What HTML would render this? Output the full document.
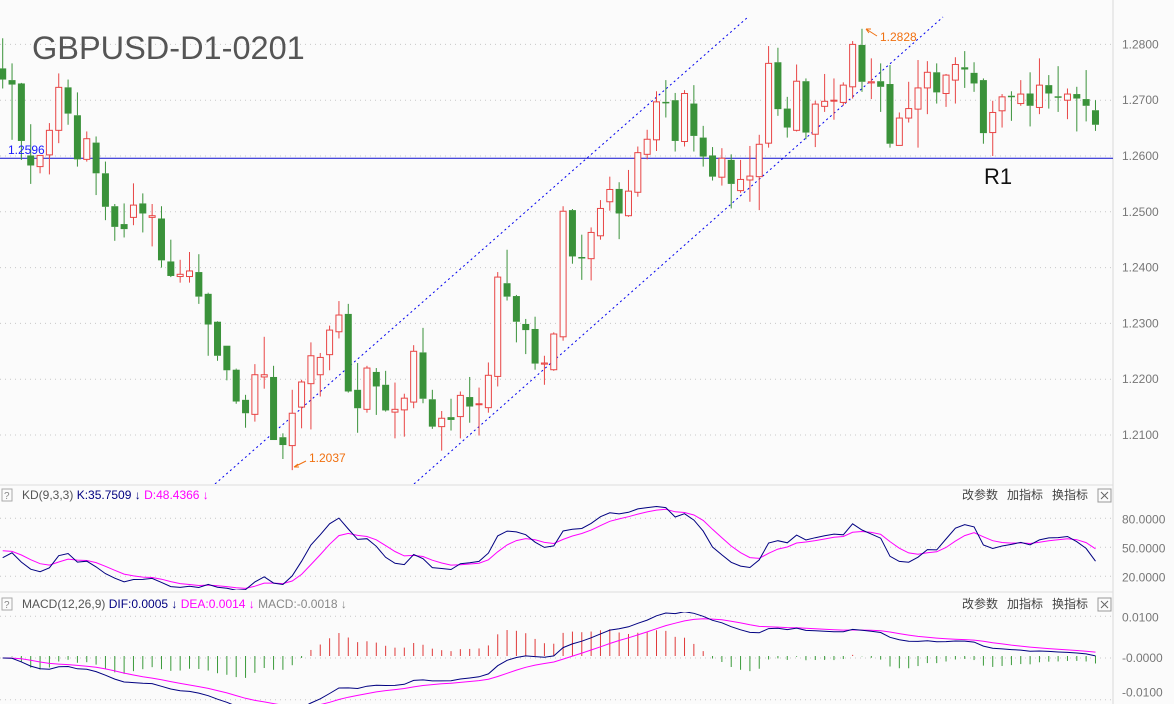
<!DOCTYPE html>
<html><head><meta charset="utf-8">
<style>
html,body{margin:0;padding:0;background:#fbfbfb;}
svg{display:block;font-family:"Liberation Sans","Noto Sans CJK SC",sans-serif;}
</style></head>
<body>
<svg id="chart" width="1174" height="704" viewBox="0 0 1174 704" xmlns="http://www.w3.org/2000/svg">
<defs>
<clipPath id="mainClip"><rect x="0" y="0" width="1113" height="484"/></clipPath>
<clipPath id="kdClip"><rect x="0" y="505" width="1113" height="85"/></clipPath>
<clipPath id="macdClip"><rect x="0" y="612" width="1113" height="92"/></clipPath>
</defs>
<rect x="0" y="0" width="1174" height="704" fill="#fbfbfb"/>
<line x1="1113" y1="0" x2="1113" y2="704" stroke="#d8d8d8"/>
<line x1="0" y1="485" x2="1113" y2="485" stroke="#dedede"/>
<line x1="0" y1="592" x2="1113" y2="592" stroke="#dedede"/>
<g id="grid"></g>
<g id="main" clip-path="url(#mainClip)"></g>
<g id="kd" clip-path="url(#kdClip)"></g>
<g id="macd" clip-path="url(#macdClip)"></g>
<g id="axes"></g>
<text x="32" y="59" font-size="32.5" fill="#555">GBPUSD-D1-0201</text>
<text x="8" y="154" font-size="12" fill="#1a1aff">1.2596</text>
<text x="984" y="184" font-size="22" fill="#111">R1</text>
<g>
<text x="309" y="462" font-size="12" fill="#f07010">1.2037</text>
<path d="M306 461 L294 467 M294 467 l4 -3 M294 467 l5 0" stroke="#f07010" fill="none"/>
</g>
<g>
<text x="880" y="41" font-size="12" fill="#f07010">1.2828</text>
<path d="M877 36 L866 29 M866 29 l5 0 M866 29 l3 4" stroke="#f07010" fill="none"/>
</g>
<rect x="2" y="489" width="10" height="12" fill="none" stroke="#aaa"/>
<text x="4" y="499" font-size="10" fill="#888">?</text>
<text x="22" y="499" font-size="12" fill="#555">KD(9,3,3) <tspan fill="#000080">K:35.7509 ↓</tspan> <tspan fill="#ff00ff">D:48.4366 ↓</tspan></text>
<text x="962" y="499" font-size="12" fill="#444">改参数</text>
<text x="1007" y="499" font-size="12" fill="#444">加指标</text>
<text x="1052" y="499" font-size="12" fill="#444">换指标</text>
<g><rect x="1098" y="489" width="13" height="13" fill="none" stroke="#999"/><path d="M1101 492 l7 7 M1108 492 l-7 7" stroke="#666"/></g>
<rect x="2" y="598" width="10" height="12" fill="none" stroke="#aaa"/>
<text x="4" y="608" font-size="10" fill="#888">?</text>
<text x="22" y="608" font-size="12" fill="#555">MACD(12,26,9) <tspan fill="#000080">DIF:0.0005 ↓</tspan> <tspan fill="#ff00ff">DEA:0.0014 ↓</tspan> <tspan fill="#888">MACD:-0.0018 ↓</tspan></text>
<text x="962" y="608" font-size="12" fill="#444">改参数</text>
<text x="1007" y="608" font-size="12" fill="#444">加指标</text>
<text x="1052" y="608" font-size="12" fill="#444">换指标</text>
<g><rect x="1098" y="598" width="13" height="13" fill="none" stroke="#999"/><path d="M1101 601 l7 7 M1108 601 l-7 7" stroke="#666"/></g>
</svg>
<script>
const opens=[1.2757,1.2736,1.2730,1.2601,1.2581,1.2602,1.2646,1.2723,1.2673,1.2594,1.2624,1.2569,1.2510,1.2478,1.2490,1.2515,1.2490,1.2488,1.2411,1.2384,1.2384,1.2392,1.2353,1.2303,1.2260,1.2217,1.2163,1.2137,1.2204,1.2204,1.2096,1.2081,1.2150,1.2192,1.2208,1.2244,1.2285,1.2317,1.2181,1.2146,1.2213,1.2190,1.2141,1.2145,1.2159,1.2248,1.2164,1.2115,1.2132,1.2133,1.2168,1.2155,1.2149,1.2205,1.2372,1.2349,1.2299,1.2290,1.2227,1.2217,1.2276,1.2503,1.2419,1.2416,1.2457,1.2518,1.2541,1.2493,1.2535,1.2603,1.2629,1.2697,1.2700,1.2626,1.2694,1.2633,1.2601,1.2562,1.2593,1.2538,1.2557,1.2563,1.2623,1.2768,1.2685,1.2646,1.2734,1.2639,1.2689,1.2699,1.2696,1.2724,1.2799,1.2731,1.2734,1.2729,1.2619,1.2668,1.2684,1.2722,1.2750,1.2712,1.2736,1.2759,1.2749,1.2736,1.2642,1.2681,1.2708,1.2694,1.2712,1.2687,1.2727,1.2707,1.2700,1.2711,1.2702,1.2682];
const highs=[1.2811,1.2766,1.2731,1.2657,1.2601,1.2659,1.2748,1.2737,1.2714,1.2644,1.2635,1.2590,1.2514,1.2515,1.2551,1.2533,1.2514,1.2510,1.2450,1.2414,1.2428,1.2424,1.2355,1.2304,1.2260,1.2219,1.2172,1.2227,1.2276,1.2224,1.2103,1.2181,1.2199,1.2266,1.2247,1.2296,1.2340,1.2335,1.2229,1.2224,1.2220,1.2215,1.2194,1.2174,1.2261,1.2292,1.2181,1.2143,1.2165,1.2178,1.2204,1.2185,1.2230,1.2392,1.2432,1.2351,1.2308,1.2312,1.2242,1.2284,1.2510,1.2505,1.2459,1.2472,1.2521,1.2563,1.2553,1.2575,1.2617,1.2647,1.2716,1.2736,1.2713,1.2718,1.2727,1.2654,1.2616,1.2614,1.2603,1.2593,1.2618,1.2638,1.2797,1.2794,1.2706,1.2764,1.2739,1.2699,1.2747,1.2739,1.2732,1.2806,1.2828,1.2775,1.2766,1.2763,1.2678,1.2733,1.2772,1.2770,1.2766,1.2747,1.2777,1.2788,1.2768,1.2739,1.2699,1.2711,1.2716,1.2736,1.2750,1.2775,1.2745,1.2761,1.2721,1.2724,1.2754,1.2700];
const lows=[1.2721,1.2629,1.2593,1.2550,1.2569,1.2567,1.2623,1.2656,1.2581,1.2590,1.2530,1.2485,1.2448,1.2454,1.2476,1.2463,1.2438,1.2400,1.2383,1.2373,1.2373,1.2335,1.2242,1.2233,1.2198,1.2156,1.2113,1.2124,1.2183,1.2091,1.2057,1.2037,1.2112,1.2110,1.2169,1.2216,1.2273,1.2176,1.2104,1.2140,1.2136,1.2142,1.2094,1.2097,1.2148,1.2157,1.2111,1.2072,1.2108,1.2094,1.2122,1.2099,1.2140,1.2187,1.2341,1.2266,1.2245,1.2217,1.2190,1.2215,1.2269,1.2407,1.2378,1.2377,1.2450,1.2502,1.2451,1.2491,1.2527,1.2594,1.2609,1.2669,1.2608,1.2617,1.2608,1.2581,1.2556,1.2547,1.2506,1.2534,1.2518,1.2503,1.2615,1.2672,1.2633,1.2644,1.2630,1.2616,1.2679,1.2665,1.2690,1.2703,1.2715,1.2702,1.2679,1.2615,1.2619,1.2660,1.2615,1.2675,1.2694,1.2688,1.2694,1.2722,1.2715,1.2622,1.2600,1.2651,1.2663,1.2690,1.2653,1.2675,1.2685,1.2679,1.2666,1.2644,1.2662,1.2645];
const closes=[1.2737,1.2728,1.2627,1.2583,1.2601,1.2646,1.2723,1.2676,1.2594,1.2631,1.2569,1.2509,1.2473,1.2469,1.2512,1.2497,1.2493,1.2413,1.2385,1.2388,1.2394,1.2348,1.2298,1.2242,1.2216,1.2160,1.2139,1.2208,1.2208,1.2091,1.2082,1.2139,1.2195,1.2242,1.2239,1.2288,1.2315,1.2178,1.2148,1.2220,1.2187,1.2144,1.2146,1.2166,1.2250,1.2165,1.2115,1.2130,1.2127,1.2171,1.2151,1.2156,1.2207,1.2383,1.2348,1.2303,1.2288,1.2228,1.2229,1.2281,1.2501,1.2420,1.2418,1.2463,1.2506,1.2540,1.2497,1.2537,1.2606,1.2630,1.2697,1.2696,1.2627,1.2712,1.2636,1.2599,1.2563,1.2596,1.2550,1.2558,1.2564,1.2621,1.2766,1.2684,1.2651,1.2734,1.2642,1.2693,1.2698,1.2700,1.2727,1.2800,1.2733,1.2733,1.2724,1.2622,1.2668,1.2685,1.2722,1.2750,1.2714,1.2745,1.2764,1.2755,1.2730,1.2641,1.2678,1.2706,1.2706,1.2711,1.2690,1.2727,1.2712,1.2706,1.2711,1.2703,1.2690,1.2656];
const priceTicks=[1.28,1.27,1.26,1.25,1.24,1.23,1.22,1.21];
const kdTicks=[80,50,20];
const macdTicks=[0.01,0,-0.01];
const supportLevel=1.2596;

const NS="http://www.w3.org/2000/svg";
function mk(tag,attrs,parent){const e=document.createElementNS(NS,tag);for(const k in attrs)e.setAttribute(k,attrs[k]);parent.appendChild(e);return e;}
const xOf=i=>2.7+i*9.34;
const yP=p=>156+(1.26-p)*5580;
const yK=v=>547.3-(v-50)*0.967;
const yM=v=>658-v*4170;
const grid=document.getElementById('grid'),axes=document.getElementById('axes');
const main=document.getElementById('main'),kdG=document.getElementById('kd'),macdG=document.getElementById('macd');

priceTicks.forEach(t=>{
  const l=mk('line',{x1:0,x2:1113,y1:yP(t),y2:yP(t),stroke:'#c8c8c8','stroke-dasharray':'1,4'},grid);
  
  
  const tx=mk('text',{x:1122,y:yP(t)+4,'font-size':12,fill:'#777'},axes);tx.textContent=t.toFixed(4);
  
  
});
kdTicks.forEach(t=>{
  const l=mk('line',{x1:0,x2:1113,y1:yK(t),y2:yK(t),stroke:'#c8c8c8','stroke-dasharray':'1,4'},grid);
  
  
  const tx=mk('text',{x:1122,y:yK(t)+5,'font-size':12,fill:'#777'},axes);tx.textContent=t.toFixed(4);
  
  
});
macdTicks.forEach(t=>{
  const l=mk('line',{x1:0,x2:1113,y1:yM(t),y2:yM(t),stroke:'#c8c8c8','stroke-dasharray':'1,4'},grid);
  
  
  const tx=mk('text',{x:1122,y:yM(t)+(t<0?-3:t>0?5:4),'font-size':12,fill:'#777'},axes);tx.textContent=(t<=0?'-':'')+Math.abs(t).toFixed(4);
  
  
});

const sl=mk('line',{x1:0,x2:1113,y1:yP(supportLevel),y2:yP(supportLevel),stroke:'#1010d0','stroke-width':1},main);


const ch1=mk('line',{x1:215,y1:484,x2:748,y2:17,stroke:'#0000ee','stroke-dasharray':'2,3'},main);


const ch2=mk('line',{x1:414,y1:484,x2:943,y2:17,stroke:'#0000ee','stroke-dasharray':'2,3'},main);



for(let i=0;i<opens.length;i++){
  const o=opens[i],c=closes[i],h=highs[i],l=lows[i],x=xOf(i);
  const up=c>=o,col=up?'#e84545':'#3a923a';
  const g=mk('g',{},main);
  
  
  const top=yP(Math.max(o,c)),bot=yP(Math.min(o,c));
  mk('line',{x1:x,x2:x,y1:yP(h),y2:top,stroke:col},g);
  mk('line',{x1:x,x2:x,y1:bot,y2:yP(l),stroke:col},g);
  if(up) mk('rect',{x:x-3,y:top,width:6,height:Math.max(bot-top,1),fill:'#fbfbfb',stroke:col,'stroke-width':1},g);
  else mk('rect',{x:x-3.5,y:top,width:7,height:Math.max(bot-top,1.5),fill:col},g);
}

const K=[],D=[];let pk=50,pd=50;
for(let i=0;i<closes.length;i++){
  const s=Math.max(0,i-8);let hh=-1,ll=9;
  for(let j=s;j<=i;j++){hh=Math.max(hh,highs[j]);ll=Math.min(ll,lows[j]);}
  const rsv=hh>ll?(closes[i]-ll)/(hh-ll)*100:50;
  pk=pk*2/3+rsv/3;pd=pd*2/3+pk/3;K.push(pk);D.push(pd);
}
const dPath=D.map((v,i)=>(i?'L':'M')+xOf(i).toFixed(1)+' '+yK(v).toFixed(1)).join(' ');
const kPath=K.map((v,i)=>(i?'L':'M')+xOf(i).toFixed(1)+' '+yK(v).toFixed(1)).join(' ');
const dl=mk('path',{d:dPath,fill:'none',stroke:'#ff00ff','stroke-width':1},kdG);


const kl=mk('path',{d:kPath,fill:'none',stroke:'#000080','stroke-width':1},kdG);



let e12=closes[0],e26=closes[0],dea=0;const DIF=[],DEA=[],HIST=[];
for(let i=0;i<closes.length;i++){
  e12=e12*11/13+closes[i]*2/13;e26=e26*25/27+closes[i]*2/27;
  const dif=e12-e26;dea=dea*8/10+dif*2/10;
  DIF.push(dif);DEA.push(dea);HIST.push(2*(dif-dea));
}
HIST.forEach((v,i)=>{
  const b=mk('line',{x1:xOf(i),x2:xOf(i),y1:yM(0)-2,y2:yM(v)-2,stroke:v>=0?'#e03a3a':'#3a9a3a','stroke-width':1},macdG);
  
  
});
const deaL=mk('path',{d:DEA.map((v,i)=>(i?'L':'M')+xOf(i).toFixed(1)+' '+yM(v).toFixed(1)).join(' '),fill:'none',stroke:'#ff00ff'},macdG);


const difL=mk('path',{d:DIF.map((v,i)=>(i?'L':'M')+xOf(i).toFixed(1)+' '+yM(v).toFixed(1)).join(' '),fill:'none',stroke:'#000080'},macdG);


</script>
</body></html>
